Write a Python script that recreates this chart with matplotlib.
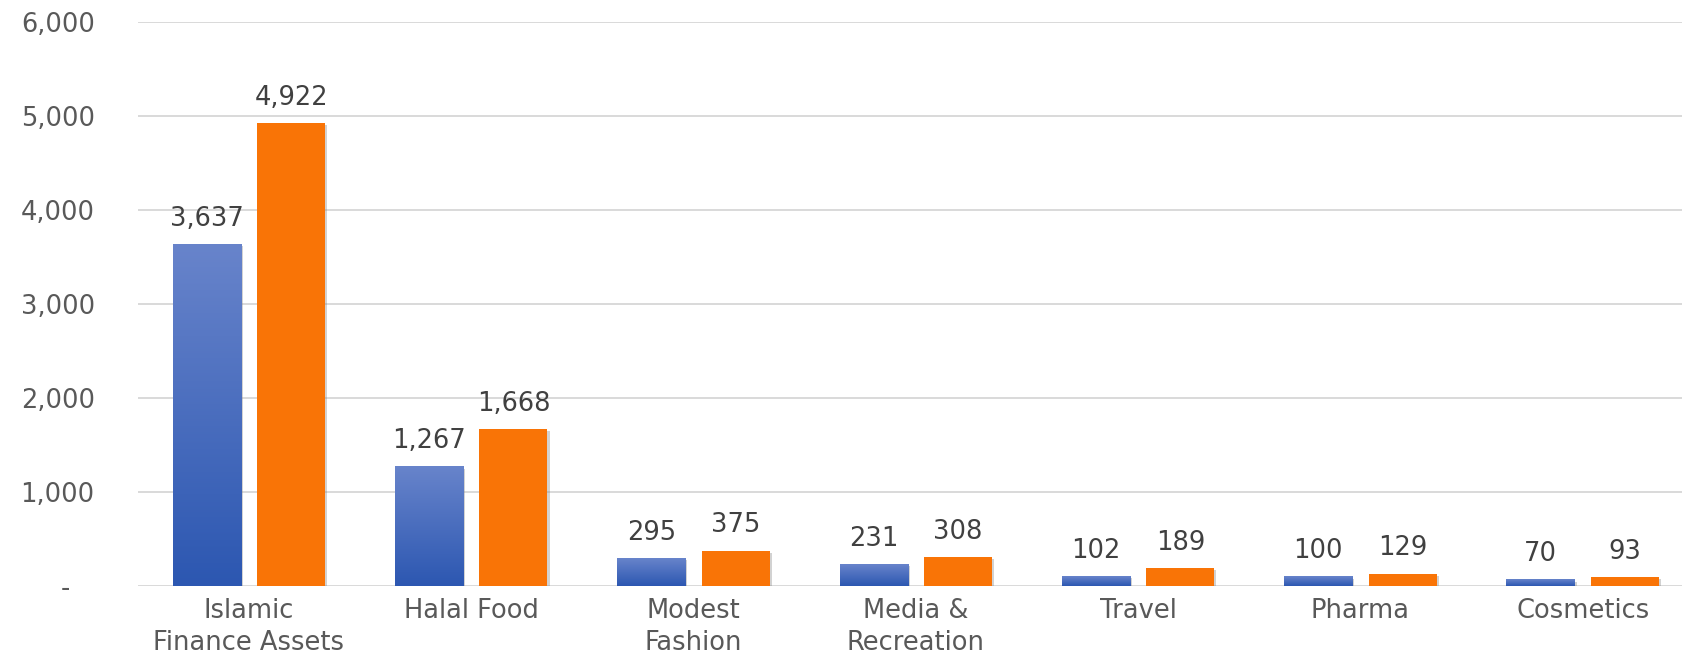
import numpy as np
import matplotlib
matplotlib.use("Agg")
import matplotlib.pyplot as plt
from matplotlib import patheffects as pe
from matplotlib.ticker import FuncFormatter
from matplotlib.colors import LinearSegmentedColormap

plt.rcParams['font.family'] = ['DejaVu Sans']

categories = ["Islamic\nFinance Assets", "Halal Food", "Modest\nFashion",
              "Media &\nRecreation", "Travel", "Pharma", "Cosmetics"]
series_a = [3637, 1267, 295, 231, 102, 100, 70]      # blue
series_b = [4922, 1668, 375, 308, 189, 129, 93]      # orange
y_ticks = [0, 1000, 2000, 3000, 4000, 5000, 6000]

W, H = 1683, 654
fig = plt.figure(figsize=(W / 100, H / 100), dpi=100)
ax = fig.add_axes([137.8 / W, 68 / H, 1556 / W, 564 / H])

x = np.arange(len(categories))
bw = 0.306
off = 0.19
blue_top, blue_bot = "#6884cb", "#2c57b1"
orange = "#F97406"
shadow = [pe.SimplePatchShadow(offset=(1.5, -1.5), shadow_rgbFace="#7f7f7f", alpha=0.35), pe.Normal()]

bars_a = ax.bar(x - off, series_a, bw, color=blue_bot, zorder=3, path_effects=shadow)
bars_b = ax.bar(x + off, series_b, bw, color=orange, zorder=3, path_effects=shadow)

cmap = LinearSegmentedColormap.from_list("bg", [blue_bot, blue_top])
grad = np.linspace(0, 1, 256).reshape(-1, 1)
for b in bars_a:
    x0, w, h = b.get_x(), b.get_width(), b.get_height()
    ax.imshow(grad, cmap=cmap, origin="lower", aspect="auto",
              extent=[x0, x0 + w, 0, h], zorder=4, interpolation="bicubic")

ax.set_xlim(-0.5, len(categories) - 0.5)
ax.set_ylim(0, 6000)
ax.set_yticks(y_ticks)
ax.yaxis.set_major_formatter(FuncFormatter(lambda v, p: "-   " if v == 0 else f"{int(v):,}"))
ax.set_xticks(x)
ax.set_xticklabels(categories, linespacing=1.3)

fs = 18.5
for s in ax.spines.values():
    s.set_visible(False)
ax.grid(axis="y", color="#d9d9d9", linewidth=1.4, zorder=0)
ax.set_axisbelow(True)
ax.tick_params(axis="y", length=0, pad=31, labelsize=fs, labelcolor="#595959")
ax.tick_params(axis="x", length=0, pad=9, labelsize=fs, labelcolor="#595959")

for bars, vals in ((bars_a, series_a), (bars_b, series_b)):
    for b, v in zip(bars, vals):
        ax.annotate(f"{v:,}", (b.get_x() + b.get_width() / 2, v),
                    xytext=(0, 9), textcoords="offset points",
                    ha="center", va="bottom", fontsize=fs, color="#404040",
                    zorder=5, annotation_clip=False)

fig.savefig("out.png", dpi=100)
